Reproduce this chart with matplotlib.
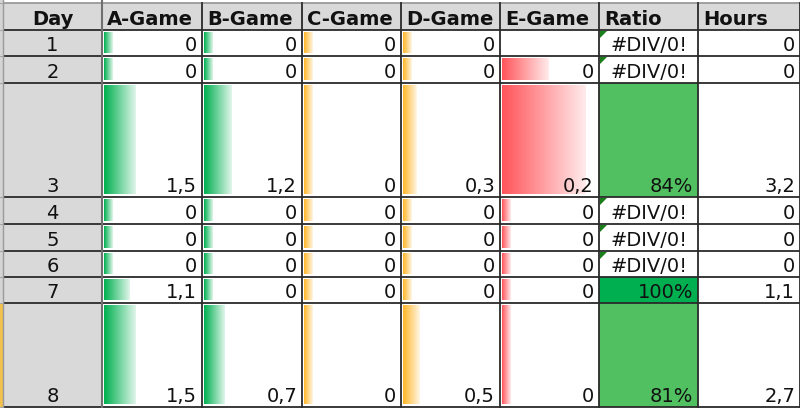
import matplotlib
matplotlib.use('Agg')
import matplotlib.pyplot as plt
import numpy as np
from matplotlib.colors import LinearSegmentedColormap, to_rgb
from matplotlib.patches import Rectangle, Polygon

# ---- data ----
headers = ['Day', 'A-Game', 'B-Game', 'C-Game', 'D-Game', 'E-Game', 'Ratio', 'Hours']
days = [1, 2, 3, 4, 5, 6, 7, 8]
a_game = [0, 0, 1.5, 0, 0, 0, 1.1, 1.5]
b_game = [0, 0, 1.2, 0, 0, 0, 0, 0.7]
c_game = [0, 0, 0, 0, 0, 0, 0, 0]
d_game = [0, 0, 0.3, 0, 0, 0, 0, 0.5]
e_game = [None, 0, 0.2, 0, 0, 0, 0, 0]
ratio = [None, None, 0.84, None, None, None, 1.00, 0.81]
hours = [0, 0, 3.2, 0, 0, 0, 1.1, 2.7]
# data-bar lengths as shown (fraction of cell width)
bar_a = [0.09, 0.09, 0.33, 0.09, 0.09, 0.09, 0.27, 0.33]
bar_b = [0.09, 0.09, 0.29, 0.09, 0.09, 0.09, 0.09, 0.21]
bar_c = [0.09, 0.09, 0.09, 0.09, 0.09, 0.09, 0.09, 0.09]
bar_d = [0.09, 0.09, 0.14, 0.09, 0.09, 0.09, 0.09, 0.17]
bar_e = [0.0, 0.49, 0.88, 0.09, 0.09, 0.09, 0.09, 0.09]

# ---- layout ----
col_edges = [3, 102, 202, 302, 401, 500, 599, 698, 800]
row_edges = [3, 30, 56, 83, 197, 224, 251, 277, 303, 407]

green = '#00B050'
orange = '#FFB628'
red = '#FF555A'
ratio_light = '#50C060'
ratio_dark = '#00B050'
gray_bg = '#D9D9D9'
FS = 14

fig = plt.figure(figsize=(8, 4.08), dpi=100)
ax = fig.add_axes([0, 0, 1, 1])
ax.axis('off')


def fmt(v):
    if v is None:
        return ''
    if float(v).is_integer():
        return str(int(v))
    return f'{v:.1f}'.replace('.', ',')


def grad_bar(x0, x1, y0, y1, color):
    if x1 - x0 <= 0:
        return
    c = np.array(to_rgb(color))
    end = c + (1 - c) * 0.88
    cmap = LinearSegmentedColormap.from_list('g', [c, end])
    g = np.linspace(0, 1, 64).reshape(1, -1)
    ax.imshow(g, cmap=cmap, extent=[x0, x1, y1, y0], aspect='auto',
              interpolation='bilinear', zorder=2)


# left strip (row headers)
for i in range(len(row_edges) - 1):
    col = '#F2C14E' if i == len(row_edges) - 2 else '#D4D4D4'
    ax.add_patch(Rectangle((0, row_edges[i]), 3, row_edges[i + 1] - row_edges[i],
                           facecolor=col, edgecolor='none', zorder=1))
ax.add_patch(Rectangle((0, 0), 3, 3, facecolor='#D4D4D4', edgecolor='none', zorder=1))

# header background
ax.add_patch(Rectangle((col_edges[0], row_edges[0]), col_edges[-1] - col_edges[0],
                       row_edges[1] - row_edges[0], facecolor=gray_bg,
                       edgecolor='none', zorder=1))
# day column background
ax.add_patch(Rectangle((col_edges[0], row_edges[1]), col_edges[1] - col_edges[0],
                       row_edges[-1] - row_edges[1], facecolor=gray_bg,
                       edgecolor='none', zorder=1))

# header text
for j, h in enumerate(headers):
    if j == 0:
        x = (col_edges[0] + col_edges[1]) / 2
        ha = 'center'
    else:
        x = col_edges[j] + 5
        ha = 'left'
    ax.text(x, row_edges[1] - 5, h, ha=ha, va='baseline', fontsize=FS,
            fontweight='bold', color='#111111', family='DejaVu Sans', zorder=5)

games = [(a_game, bar_a, green), (b_game, bar_b, green), (c_game, bar_c, orange),
         (d_game, bar_d, orange), (e_game, bar_e, red)]

for i, d in enumerate(days):
    top = row_edges[i + 1]
    bot = row_edges[i + 2]
    base = bot - 5
    ax.text((col_edges[0] + col_edges[1]) / 2, base, str(d), ha='center',
            va='baseline', fontsize=FS, color='#111111', zorder=5)
    for k, (vals, bars, colr) in enumerate(games):
        j = k + 1
        left, right = col_edges[j], col_edges[j + 1]
        w = right - left
        grad_bar(left + 2, left + 2 + bars[i] * (w - 4), top + 2, bot - 3, colr)
        ax.text(right - 5, base, fmt(vals[i]), ha='right', va='baseline',
                fontsize=FS, color='#111111', zorder=5)
    # ratio
    left, right = col_edges[6], col_edges[7]
    r = ratio[i]
    if r is None:
        ax.text((left + right) / 2, base, '#DIV/0!', ha='center', va='baseline',
                fontsize=FS, color='#111111', zorder=5)
        ax.add_patch(Polygon([[left + 1, top + 1], [left + 8, top + 1], [left + 1, top + 8]],
                             closed=True, facecolor='#1A7F1A', edgecolor='none', zorder=6))
    else:
        fc = ratio_dark if r >= 1 else ratio_light
        ax.add_patch(Rectangle((left, top), right - left, bot - top, facecolor=fc,
                               edgecolor='none', zorder=1))
        ax.text(right - 5, base, f'{round(r * 100)}%', ha='right', va='baseline',
                fontsize=FS, color='#111111', zorder=5)
    # hours
    left, right = col_edges[7], col_edges[8]
    ax.text(right - 5, base, fmt(hours[i]), ha='right', va='baseline',
            fontsize=FS, color='#111111', zorder=5)

# grid lines
for k, y in enumerate(row_edges):
    ax.plot([col_edges[0], col_edges[-1]], [y, y], color='#2A2A2A' if k > 0 else '#9A9A9A',
            lw=1.3, zorder=7, solid_capstyle='butt')
    ax.plot([0, col_edges[0]], [y, y], color='#A8A8A8', lw=0.8, zorder=7)
for k, x in enumerate(col_edges):
    if k == 0:
        ax.plot([x, x], [0, row_edges[-1]], color='#9A9A9A', lw=1.0, zorder=7)
    elif k == 1:
        ax.plot([x, x], [0, row_edges[-1]], color='#707070', lw=1.5, zorder=7)
    else:
        ax.plot([x, x], [row_edges[0], row_edges[-1]], color='#2A2A2A', lw=1.3, zorder=7)

ax.set_xlim(0, 800)
ax.set_ylim(408, 0)
fig.savefig('out.png', dpi=100)
